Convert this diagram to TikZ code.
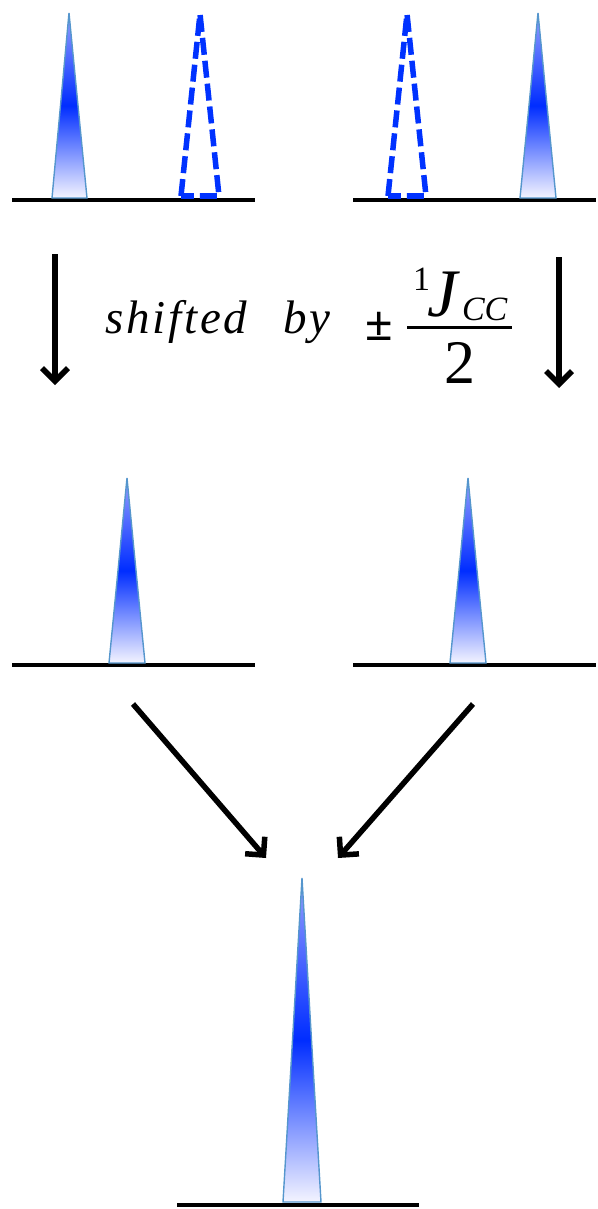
\documentclass[tikz,border=0pt]{standalone}
\usepackage{fontspec}
\setmainfont{Liberation Serif}
\newfontfamily\spacedserif[LetterSpace=6]{Liberation Serif}
\usetikzlibrary{arrows.meta}
\definecolor{peakblue}{RGB}{0,45,255}
\definecolor{peaktop}{RGB}{150,160,255}
\definecolor{peakbot}{RGB}{244,244,255}
\definecolor{edgeblue}{RGB}{85,150,205}
\definecolor{dashblue}{RGB}{0,50,255}
\tikzset{
  solidpeak/.style={top color=peaktop, bottom color=peakbot, middle color=peakblue, draw=edgeblue, line width=1.4pt, line join=miter},
  dashpeak/.style={draw=dashblue, line width=5.5pt, dash pattern=on 17pt off 6pt, line join=round},
  axisline/.style={line width=4.8pt, draw=black},
  bigarrow/.style={line width=5.5pt, draw=black, -{Straight Barb[length=13pt,width=26pt]}},
  lbl/.style={inner sep=0pt, outer sep=0pt}
}
\newcommand\mypeak[6][solidpeak]{%
  \path[#1] (#4,#6) -- (#2,#3) -- (#5,#6) -- cycle;}
\begin{document}
\begin{tikzpicture}[x=1pt,y=-1pt]
\useasboundingbox (0,0) rectangle (597,1209);

% ---- top row ----
\coordinate (tl1) at (12,200);  \coordinate (tl2) at (255,200);
\coordinate (tr1) at (353,200); \coordinate (tr2) at (596,200);
\draw[axisline] (tl1) -- (tl2);
\draw[axisline] (tr1) -- (tr2);
\mypeak{69}{13}{52}{87}{198}
\mypeak[dashpeak]{200}{14}{181}{219}{196}
\mypeak[dashpeak]{407}{14}{388}{426}{196}
\mypeak{538}{13}{520}{556}{198}

% ---- vertical arrows ----
\coordinate (va1) at (55,254);  \coordinate (vb1) at (55,385);
\coordinate (va2) at (559,257); \coordinate (vb2) at (559,388);
\draw[bigarrow] (va1) -- (vb1);
\draw[bigarrow] (va2) -- (vb2);

% ---- label ----
\node[lbl, anchor=base west, font=\spacedserif\itshape\fontsize{47}{54}\selectfont] (shifted) at (105,333) {shifted};
\node[lbl, anchor=base west, font=\spacedserif\itshape\fontsize{47}{54}\selectfont] (by) at (283,333) {by};
\node[lbl, anchor=base west, font=\bfseries\fontsize{50}{56}\selectfont] (pm) at (365,340) {±};
\node[lbl, anchor=base west, font=\fontsize{34}{38}\selectfont] (one) at (413,290) {1};
\node[lbl, anchor=base west, font=\itshape\fontsize{68}{72}\selectfont] (J) at (427,316) {J};
\node[lbl, anchor=base west, font=\itshape\fontsize{34}{38}\selectfont] (cc) at (462,320) {CC};
\node[lbl, anchor=base, font=\fontsize{62}{66}\selectfont] (two) at (460,383) {2};
\coordinate (bar1) at (407,327); \coordinate (bar2) at (512,327);
\draw[line width=3pt] (bar1) -- (bar2);

% ---- middle row ----
\coordinate (ml1) at (12,665);  \coordinate (ml2) at (255,665);
\coordinate (mr1) at (353,665); \coordinate (mr2) at (596,665);
\draw[axisline] (ml1) -- (ml2);
\draw[axisline] (mr1) -- (mr2);
\mypeak{127}{478}{109}{145}{663}
\mypeak{468}{478}{450}{486}{663}

% ---- diagonal arrows ----
\coordinate (da1) at (133,704); \coordinate (db1) at (266,858);
\coordinate (da2) at (473,704); \coordinate (db2) at (338,858);
\draw[bigarrow] (da1) -- (db1);
\draw[bigarrow] (da2) -- (db2);

% ---- bottom ----
\coordinate (bl1) at (177,1205); \coordinate (bl2) at (419,1205);
\draw[axisline] (bl1) -- (bl2);
\mypeak{302}{878}{283}{321}{1202}
\end{tikzpicture}
\end{document}
